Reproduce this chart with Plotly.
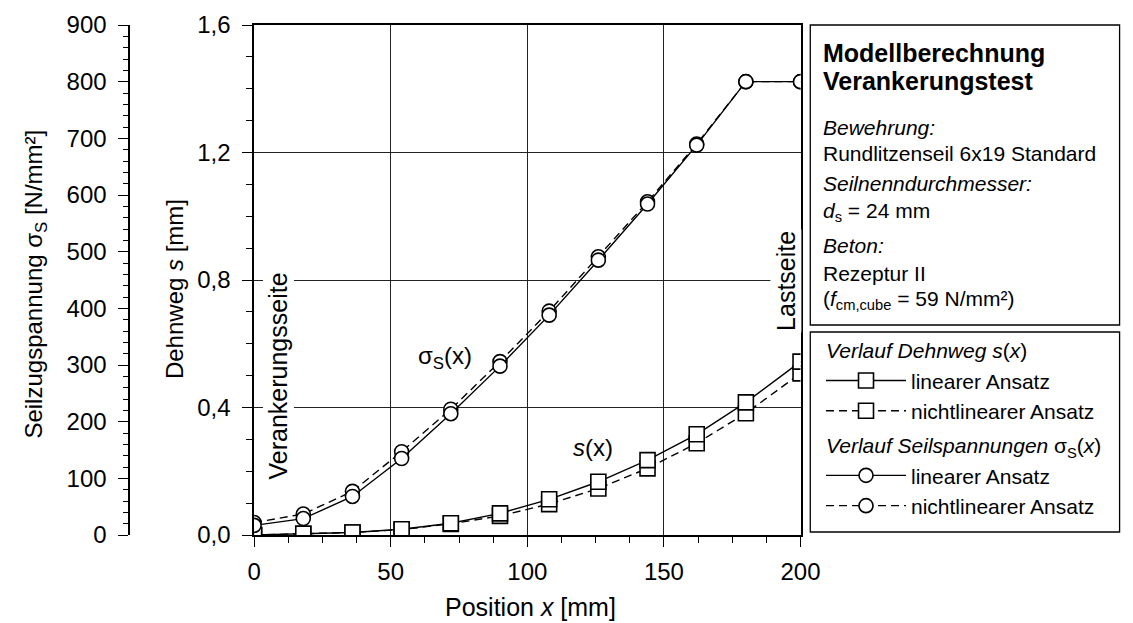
import plotly.graph_objects as go

# ----------------- data -----------------
pos_x = [0, 18, 36, 54, 72, 90, 108, 126, 144, 162, 180, 200]

# Dehnweg s(x) [mm]
s_linear = [0.0, 0.004, 0.008, 0.018, 0.037, 0.068, 0.112, 0.167, 0.235, 0.316, 0.416, 0.544]
s_nonlinear = [0.0, 0.004, 0.008, 0.017, 0.035, 0.060, 0.097, 0.146, 0.209, 0.288, 0.382, 0.507]

# Seilspannung sigma_S(x) [N/mm²]
sig_linear = [17, 29, 68, 135, 214, 298, 388, 485, 584, 688, 800, 800]
sig_nonlinear = [22, 37, 77, 147, 222, 306, 395, 491, 588, 690, 800, 800]

s_ticks = [0.0, 0.4, 0.8, 1.2, 1.6]
s_ticktext = ["0,0", "0,4", "0,8", "1,2", "1,6"]
sig_ticks = list(range(0, 901, 100))
x_ticks = [0, 50, 100, 150, 200]

FONT = "Liberation Sans, Arial, sans-serif"
W, H = 1133, 623
ML, MR, MT, MB = 10, 10, 25, 88
PW, PH = W - ML - MR, H - MT - MB


def px(xp):  # pixel -> paper x
    return (xp - ML) / PW


def py(yp):  # pixel -> paper y
    return (H - MB - yp) / PH


fig = go.Figure()

line_w = 1.4
dash = "8px,5px"
circ = dict(symbol="circle", size=14, color="white", line=dict(color="black", width=1.6))
sq = dict(symbol="square", size=15, color="white", line=dict(color="black", width=1.6))

# s(x) -> primary y axis
fig.add_trace(go.Scatter(
    x=pos_x, y=s_nonlinear, mode="lines+markers", name="nichtlinearer Ansatz",
    line=dict(color="black", width=line_w, dash=dash), marker=sq,
    legendgroup="s", legendrank=2,
))
fig.add_trace(go.Scatter(
    x=pos_x, y=s_linear, mode="lines+markers", name="linearer Ansatz",
    line=dict(color="black", width=line_w), marker=sq,
    legendgroup="s", legendrank=1,
    legendgrouptitle=dict(text="<i>Verlauf Dehnweg s</i>(<i>x</i>)"),
))
# sigma(x) -> secondary (left, outer) axis
fig.add_trace(go.Scatter(
    x=pos_x, y=sig_nonlinear, mode="lines+markers", name="nichtlinearer Ansatz",
    line=dict(color="black", width=line_w, dash=dash), marker=circ, yaxis="y2",
    legendgroup="sig", legendrank=4,
))
fig.add_trace(go.Scatter(
    x=pos_x, y=sig_linear, mode="lines+markers", name="linearer Ansatz",
    line=dict(color="black", width=line_w), marker=circ, yaxis="y2",
    legendgroup="sig", legendrank=3,
    legendgrouptitle=dict(text="<i>Verlauf Seilspannungen</i> σ<sub>S</sub>(<i>x</i>)"),
))

axis_common = dict(
    showline=True, linecolor="black", linewidth=1.5,
    ticks="outside", ticklen=10, tickwidth=1.3, tickcolor="black",
    tickfont=dict(size=24, color="black"),
    zeroline=False,
)

fig.update_layout(
    width=W, height=H,
    margin=dict(l=ML, r=MR, t=MT, b=MB),
    paper_bgcolor="white", plot_bgcolor="white",
    font=dict(family=FONT, size=21, color="black"),
    xaxis=dict(
        **axis_common, domain=[px(253), px(813)], range=[0, 200],
        tickvals=x_ticks, mirror=True, ticklabelstandoff=4,
        showgrid=True, gridcolor="#222222", gridwidth=1,
        minor=dict(dtick=12.5, ticks="outside", ticklen=6, tickcolor="black", showgrid=False),
    ),
    yaxis=dict(
        **axis_common, range=[0, 1.6], tickvals=s_ticks, ticktext=s_ticktext,
        mirror=True, showgrid=True, gridcolor="#222222", gridwidth=1,
        ticklabelstandoff=7,
        minor=dict(dtick=0.1, ticks="outside", ticklen=6, tickcolor="black", showgrid=False),
    ),
    yaxis2=dict(
        **axis_common, range=[0, 900], tickvals=sig_ticks,
        overlaying="y", anchor="free", position=px(125), side="left",
        showgrid=False, ticklabelstandoff=7,
        minor=dict(dtick=20, ticks="outside", ticklen=5, tickcolor="black", showgrid=False),
    ),
    showlegend=True,
    legend=dict(
        x=px(834), y=py(330), xanchor="left", yanchor="top",
        bgcolor="rgba(0,0,0,0)", font=dict(size=21),
        grouptitlefont=dict(size=21), tracegroupgap=4, itemwidth=80,
        traceorder="grouped",
    ),
)

# info / legend boxes
fig.add_shape(type="rect", xref="paper", yref="paper",
              x0=px(823), x1=px(1140), y0=py(325), y1=py(25),
              line=dict(color="black", width=1.3))
fig.add_shape(type="rect", xref="paper", yref="paper",
              x0=px(823), x1=px(1140), y0=py(532), y1=py(332),
              line=dict(color="black", width=1.3))

info_lines = [
    ("<b>Modellberechnung</b>", 53, 25),
    ("<b>Verankerungstest</b>", 81, 25),
    ("<i>Bewehrung:</i>", 128, 21),
    ("Rundlitzenseil 6x19 Standard", 153, 21),
    ("<i>Seilnenndurchmesser:</i>", 183, 21),
    ("<i>d</i><sub>s</sub> = 24 mm", 212, 21),
    ("<i>Beton:</i>", 245, 21),
    ("Rezeptur II", 273, 21),
    ("(<i>f</i><sub>cm,cube</sub> = 59 N/mm²)", 300, 21),
]
for txt, yy, fs in info_lines:
    fig.add_annotation(text=txt, xref="paper", yref="paper", x=px(834), y=py(yy),
                       xanchor="left", yanchor="middle", showarrow=False,
                       font=dict(size=fs))


def label(text, x, y, angle=0, size=25, bg=None):
    fig.add_annotation(text=text, textangle=angle, xref="paper", yref="paper",
                       x=px(x), y=py(y), xanchor="center", yanchor="middle",
                       showarrow=False, font=dict(size=size),
                       bgcolor=bg if bg else "rgba(0,0,0,0)")


# axis titles
label("Seilzugspannung σ<sub>S</sub> [N/mm²]", 28, 284, angle=-90, size=24)
label("Dehnweg <i>s</i> [mm]", 172, 289, angle=-90, size=24)
label("Position <i>x</i> [mm]", 536, 607)

# in-plot labels
label("Verankerungsseite", 278, 376, angle=-90, bg="white")
label("Lastseite", 798, 281, angle=-90, bg="white")
label("σ<sub>S</sub>(x)", 449, 357, size=24)
label("<i>s</i>(x)", 600, 447, size=24)

fig.write_html("out.html", config={"displayModeBar": False},
               post_script="document.body.style.margin='0';")
